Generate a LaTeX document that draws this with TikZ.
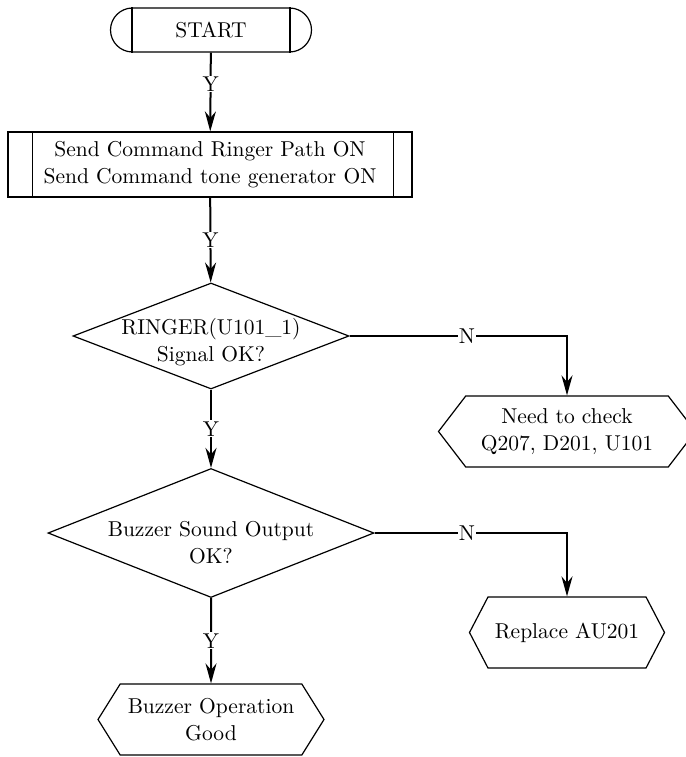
\documentclass[tikz,border=0pt]{standalone}
\usetikzlibrary{shapes.geometric,shapes.misc,shapes.symbols,arrows.meta}
\font\boxfont="[lmroman10-regular]:mapping=tex-text" at 21.5pt
\newcommand\boxtext{\boxfont\baselineskip=27pt\relax}
\tikzset{
	box/.style={draw,line width=1.2pt,align=center,font=\boxtext},
	startbox/.style={box,rounded rectangle,minimum width=201pt,minimum height=44pt,inner sep=0pt},
	procbox/.style={box,rectangle,minimum width=404pt,minimum height=65pt,inner sep=0pt},
	decbox/.style={box,diamond,shape aspect=2.6,inner xsep=-6pt,inner ysep=-11pt,text depth=6pt},
	endbox/.style={box,signal,signal to=west and east,minimum height=71pt,inner sep=0pt},
	flow/.style={->,line width=2pt},
	yn/.style={fill=white,inner sep=1pt,font=\boxtext}
}
\begin{document}
\begin{tikzpicture}[x=1pt,y=-1pt,>={Stealth[length=20pt,width=11pt]}]
	\useasboundingbox (0,0) rectangle (685,757);
	% boxes
	\node[startbox] (start) at (211,30) {START};
	\draw[line width=1.2pt] ([xshift=-79pt]start.north) -- ([xshift=-79pt]start.south)
		([xshift=79pt]start.north) -- ([xshift=79pt]start.south);
	\node[procbox] (cmd) at (210,164.5) {Send Command Ringer Path ON\\Send Command tone generator ON};
	\draw[line width=1.2pt] ([xshift=25pt]cmd.north west) -- ([xshift=25pt]cmd.south west)
		([xshift=-19pt]cmd.north east) -- ([xshift=-19pt]cmd.south east);
	\node[decbox,minimum width=276pt,minimum height=106pt,text height=56pt] (ringer) at (211,336) {RINGER(U101\_1)\\Signal OK?};
	\node[decbox,minimum width=326pt,minimum height=129pt,text height=66pt] (buzzer) at (211,533) {Buzzer Sound Output\\OK?};
	\node[endbox,minimum width=257pt,signal pointer angle=105] (check) at (567,431.5) {Need to check\\Q207, D201, U101};
	\node[endbox,minimum width=195pt,signal pointer angle=125] (replace) at (567,632.5) {Replace AU201};
	\node[endbox,minimum width=226pt,signal pointer angle=116] (good) at (211,719.5) {Buzzer Operation\\Good};
	% connectors
	\draw[flow] (start) -- node[yn,pos=0.4]{Y} (cmd);
	\draw[flow] (cmd) -- node[yn]{Y} (ringer);
	\draw[flow] (ringer) -- node[yn]{Y} (buzzer);
	\draw[flow] (buzzer) -- node[yn]{Y} (good);
	\draw[flow] (ringer.east) -| node[yn,pos=0.27]{N} (check.north);
	\draw[flow] (buzzer.east) -| node[yn,pos=0.24]{N} (replace.north);
\end{tikzpicture}
\end{document}
